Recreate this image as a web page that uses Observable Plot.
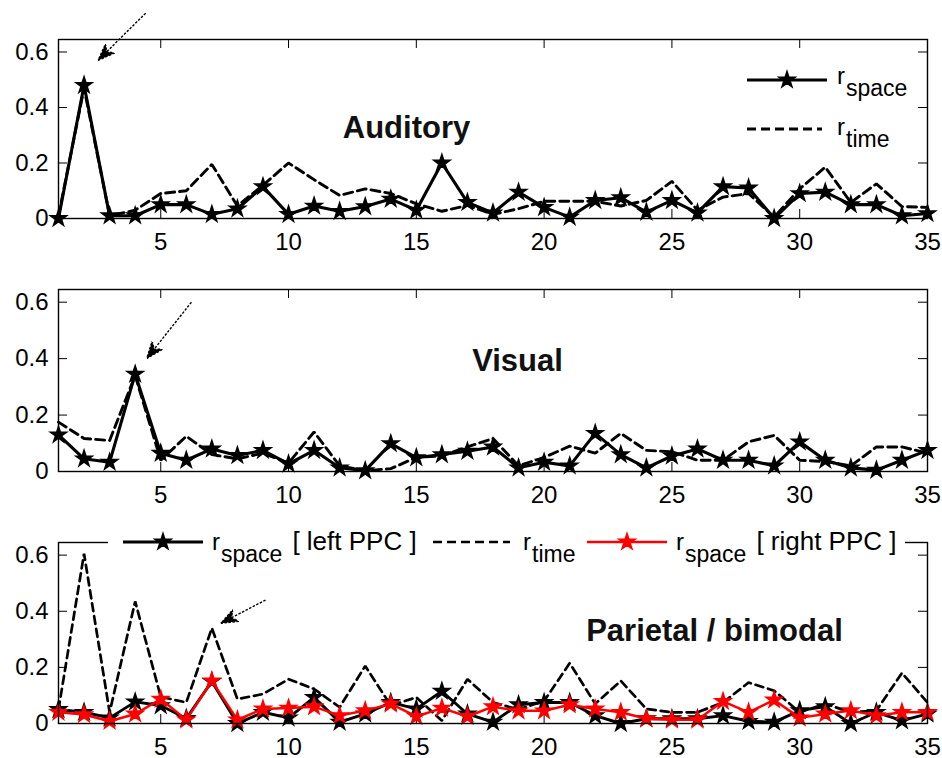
<!DOCTYPE html>
<html><head><meta charset="utf-8">
<script src="https://cdn.jsdelivr.net/npm/d3@7"></script>
<script src="https://cdn.jsdelivr.net/npm/@observablehq/plot@0.6"></script>
<style>
body{margin:0;background:#fff;overflow:hidden;}
#chart{width:942px;font-family:"Liberation Sans",Arial,sans-serif;}
svg{display:block;}
</style></head><body><div id="chart"></div>
<script>
const trial = [1,2,3,4,5,6,7,8,9,10,11,12,13,14,15,16,17,18,19,20,21,22,23,24,25,26,27,28,29,30,31,32,33,34,35];
const xTicks = [5,10,15,20,25,30,35];
const yTicks = [0,0.2,0.4,0.6];

const audSpace = [0,0.48,0.01,0.01,0.05,0.05,0.015,0.035,0.115,0.015,0.045,0.026,0.043,0.07,0.03,0.2,0.058,0.02,0.095,0.04,0.005,0.065,0.075,0.023,0.065,0.02,0.115,0.11,0,0.09,0.095,0.05,0.05,0.01,0.018];
const audTime  = [0.01,0.47,0.01,0.03,0.09,0.10,0.195,0.045,0.12,0.2,0.14,0.083,0.107,0.09,0.053,0.026,0.047,0.015,0.035,0.062,0.062,0.062,0.045,0.065,0.134,0.03,0.077,0.09,0.005,0.107,0.185,0.058,0.125,0.043,0.04];

const visSpace = [0.13,0.045,0.033,0.345,0.065,0.04,0.08,0.057,0.075,0.027,0.075,0.013,0.003,0.099,0.049,0.06,0.072,0.087,0.013,0.033,0.02,0.135,0.06,0.013,0.055,0.08,0.04,0.04,0.02,0.105,0.04,0.013,0.005,0.04,0.075];
const visTime  = [0.175,0.117,0.11,0.34,0.04,0.125,0.06,0.045,0.065,0.03,0.14,0.02,0.003,0.01,0.05,0.055,0.087,0.117,0.02,0.05,0.09,0.065,0.135,0.075,0.07,0.04,0.04,0.105,0.128,0.04,0.035,0.02,0.087,0.087,0.065];

const parSpaceLeft  = [0.05,0.04,0.02,0.077,0.064,0.018,0.15,0,0.04,0.02,0.093,0.005,0.034,0.075,0.052,0.115,0.034,0.005,0.067,0.075,0.075,0.028,0,0.017,0.017,0.017,0.028,0.008,0.005,0.046,0.06,0,0.04,0.01,0.034];
const parTime       = [0.05,0.605,0.04,0.435,0.095,0.075,0.34,0.087,0.105,0.158,0.123,0.058,0.205,0.064,0.093,0.01,0.158,0.075,0.05,0.08,0.215,0.07,0.152,0.052,0.04,0.04,0.075,0.146,0.117,0.04,0.07,0.04,0.046,0.18,0.075];
const parSpaceRight = [0.04,0.032,0.008,0.034,0.087,0.013,0.152,0.013,0.052,0.055,0.06,0.028,0.046,0.07,0.025,0.055,0.025,0.06,0.045,0.045,0.067,0.052,0.04,0.017,0.013,0.013,0.079,0.04,0.084,0.02,0.034,0.046,0.028,0.04,0.04];

// annotation arrows (data coordinates: tail -> tip)
const audArrow = [{x1:4.41, y1:0.74, x2:2.55, y2:0.57}];
const visArrow = [{x1:6.2, y1:0.6, x2:4.45, y2:0.4}];
const parArrow = [{x1:9.1, y1:0.44, x2:7.35, y2:0.357}];

const FONT = '"Liberation Sans",Arial,Helvetica,sans-serif';
const W = 942, ML = 58, MR = 15;
const STAR_R = 4.6;

function rows(arr){ return trial.map((t,i)=>({x:t, v:arr[i]})); }

function filledArrow(color, context){
  const doc = context.document;
  const ns = "http://www.w3.org/2000/svg";
  const m = doc.createElementNS(ns,"marker");
  m.setAttribute("viewBox","-17 -7 17 14");
  m.setAttribute("markerWidth","17");
  m.setAttribute("markerHeight","14");
  m.setAttribute("markerUnits","userSpaceOnUse");
  m.setAttribute("orient","auto");
  m.setAttribute("refX","0");
  m.setAttribute("refY","0");
  const p = doc.createElementNS(ns,"path");
  p.setAttribute("d","M-17,-6.5L0,0L-17,6.5L-12,0Z");
  p.setAttribute("fill","black");
  m.appendChild(p);
  return m;
}

function panel({series, height, marginTop, marginBottom, title, tdx, tdy, arrow}, useCustom){
  const innerW = W - ML - MR;
  const innerH = height - marginTop - marginBottom;
  const marks = [
    Plot.axisX({ticks:xTicks, tickSize:0, tickPadding:14, label:null, tickFormat:d=>String(d)}),
    Plot.axisY({ticks:yTicks, tickSize:0, tickPadding:10, label:null, tickFormat:d=>d===0?"0":d.toFixed(1)}),
    Plot.tickX(xTicks, {x:d=>d, insetBottom:innerH-9, stroke:"black", strokeWidth:1}),
    Plot.tickX(xTicks, {x:d=>d, insetTop:innerH-9, stroke:"black", strokeWidth:1}),
    Plot.tickY(yTicks, {y:d=>d, insetRight:innerW-9, stroke:"black", strokeWidth:1}),
    Plot.tickY(yTicks, {y:d=>d, insetLeft:innerW-9, stroke:"black", strokeWidth:1}),
  ];
  for (const s of series){
    const data = rows(s.values);
    marks.push(Plot.line(data, {x:"x", y:"v", stroke:s.color, strokeWidth:s.width, strokeDasharray:s.dash||null, strokeLinejoin:"miter"}));
    if (s.marker) marks.push(Plot.dot(data, {x:"x", y:"v", symbol:"star", r:STAR_R, fill:s.color, stroke:s.color, strokeWidth:2}));
  }
  marks.push(Plot.frame({stroke:"black", strokeWidth:1.4}));
  marks.push(Plot.text([title], {frameAnchor:"top-left", dx:tdx, dy:tdy, text:d=>d, fontSize:31, fontWeight:"bold", fill:"#111", textAnchor:"middle"}));
  marks.push(Plot.link(arrow, {x1:"x1", y1:"y1", x2:"x2", y2:"y2", stroke:"black", strokeWidth:1.4, strokeDasharray:"2.5,1.5", markerEnd: useCustom ? filledArrow : "arrow"}));
  return Plot.plot({
    width:W, height, marginLeft:ML, marginRight:MR, marginTop, marginBottom,
    x:{domain:[1,35]}, y:{domain:[0,0.645]},
    style:{fontSize:"24px", fontFamily:FONT, color:"black", background:"white", overflow:"visible"},
    marks
  });
}

function make(cfg){
  try { return panel(cfg, true); } catch(e){ return panel(cfg, false); }
}

const starPath = d3.symbol(d3.symbolStar, Math.PI*STAR_R*STAR_R)();

function addLabel(g, x, y, main, sub, rest){
  const t = g.append("text").attr("x",x).attr("y",y).attr("font-size",24).attr("font-family",FONT)
    .attr("fill","black").attr("text-anchor","start");
  t.append("tspan").text(main);
  t.append("tspan").attr("dy", 12).attr("dx",1).attr("font-size",23).text(sub);
  if (rest) t.append("tspan").attr("dy", -12).attr("dx", 10).attr("font-size",26).text(rest);
}

function legendLine(g, x1, x2, y, color, dash, marker, w){
  g.append("line").attr("x1",x1).attr("x2",x2).attr("y1",y).attr("y2",y)
    .attr("stroke",color).attr("stroke-width",w).attr("stroke-dasharray",dash||null);
  if (marker) g.append("path").attr("d",starPath).attr("transform",`translate(${(x1+x2)/2},${y})`)
    .attr("fill",color).attr("stroke",color).attr("stroke-width",2);
}

const root = document.getElementById("chart");

// Panel 1: Auditory
const p1 = make({
  series:[
    {values:audTime, color:"black", width:2.9, dash:"9,5"},
    {values:audSpace, color:"black", width:3.1, marker:true}
  ],
  height:250, marginTop:39, marginBottom:32, title:"Auditory", tdx:348, tdy:76, arrow:audArrow
});
{
  const g = d3.select(p1).append("g");
  legendLine(g, 747, 827, 80, "black", null, true, 3.1);
  addLabel(g, 837, 84, "r", "space", null);
  legendLine(g, 747, 822, 129, "black", "9,5", false, 2.9);
  addLabel(g, 837, 135, "r", "time", null);
}
root.appendChild(p1);

// Panel 2: Visual
const p2 = make({
  series:[
    {values:visTime, color:"black", width:2.9, dash:"9,5"},
    {values:visSpace, color:"black", width:3.1, marker:true}
  ],
  height:250, marginTop:39, marginBottom:29, title:"Visual", tdx:459, tdy:59, arrow:visArrow
});
root.appendChild(p2);

// Panel 3: Parietal / bimodal
const p3 = make({
  series:[
    {values:parSpaceLeft, color:"black", width:2.9, marker:true},
    {values:parTime, color:"black", width:2.7, dash:"8,5"},
    {values:parSpaceRight, color:"#ff0000", width:2.5, marker:true}
  ],
  height:258, marginTop:42, marginBottom:35, title:"Parietal / bimodal", tdx:656, tdy:76, arrow:parArrow
});
{
  const g = d3.select(p3).append("g");
  g.append("rect").attr("x",108).attr("y",28).attr("width",797).attr("height",26).attr("fill","white");
  legendLine(g, 123, 203, 42, "black", null, true, 2.9);
  addLabel(g, 212, 50, "r", "space", "[ left PPC ]");
  legendLine(g, 433, 510, 42, "black", "9,5", false, 2.7);
  addLabel(g, 523, 50, "r", "time", null);
  legendLine(g, 587, 667, 42, "#ff0000", null, true, 2.5);
  addLabel(g, 676, 50, "r", "space", "[ right PPC ]");
}
root.appendChild(p3);
</script>
</body></html>
